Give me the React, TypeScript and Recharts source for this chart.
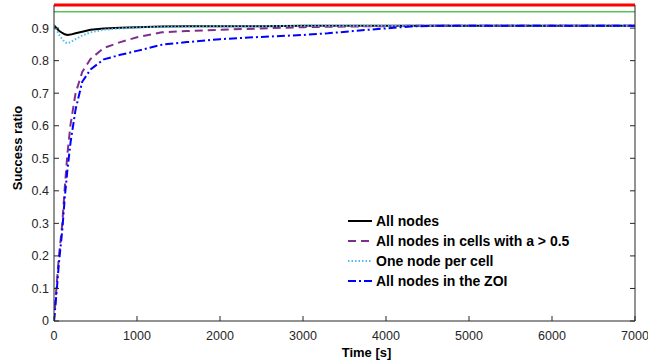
import { LineChart, Line, XAxis, YAxis, Legend, ReferenceLine } from 'recharts';

const times = [0, 30, 60, 100, 130, 160, 200, 260, 340, 440, 600, 800, 1000, 1300, 1600, 2000, 2500, 3000, 3300, 3600, 4000, 4300, 4600, 5000, 6000, 7000];

const allNodes = [0.909, 0.9, 0.892, 0.885, 0.881, 0.879, 0.88, 0.884, 0.889, 0.895, 0.899, 0.901, 0.903, 0.905, 0.906, 0.906, 0.906, 0.907, 0.907, 0.907, 0.907, 0.907, 0.907, 0.907, 0.907, 0.907];
const cellsAbove = [0, 0.105, 0.2, 0.3, 0.41, 0.51, 0.605, 0.7, 0.765, 0.805, 0.839, 0.857, 0.872, 0.887, 0.891, 0.895, 0.899, 0.903, 0.904, 0.905, 0.906, 0.907, 0.907, 0.907, 0.907, 0.907];
const oneNode = [0.909, 0.895, 0.88, 0.866, 0.857, 0.853, 0.857, 0.866, 0.877, 0.887, 0.895, 0.899, 0.902, 0.904, 0.905, 0.906, 0.906, 0.907, 0.907, 0.907, 0.907, 0.907, 0.907, 0.907, 0.907, 0.907];
const zoi = [0, 0.085, 0.18, 0.28, 0.38, 0.46, 0.55, 0.65, 0.735, 0.773, 0.804, 0.818, 0.83, 0.849, 0.857, 0.866, 0.873, 0.879, 0.884, 0.891, 0.899, 0.905, 0.907, 0.907, 0.907, 0.907];

const xTicks = [0, 1000, 2000, 3000, 4000, 5000, 6000, 7000];
const yTicks = [0, 0.1, 0.2, 0.3, 0.4, 0.5, 0.6, 0.7, 0.8, 0.9];
const X_MAX = 7000;
const Y_MAX = 0.971;

const series = [
  { key: 'all', name: 'All nodes', color: '#000000', dash: undefined },
  { key: 'cells', name: 'All nodes in cells with a > 0.5', color: '#7E2F8E', dash: '8 5' },
  { key: 'one', name: 'One node per cell', color: '#4DBEEE', dash: '1.5 2' },
  { key: 'zoi', name: 'All nodes in the ZOI', color: '#0000FF', dash: '8 3 2 3' },
];

const data = times.map((t, i) => ({
  t,
  all: allNodes[i],
  cells: cellsAbove[i],
  one: oneNode[i],
  zoi: zoi[i],
}));

const FONT = '"Liberation Sans", Arial, sans-serif';
const AXIS = '#262626';
const noLabel = () => '';

function LegendBox() {
  return (
    <div style={{ fontFamily: FONT, fontWeight: 'bold', fontSize: 14, color: '#000' }}>
      {series.map((s) => (
        <div key={s.key} style={{ display: 'flex', alignItems: 'center', height: 20 }}>
          <svg width={24} height={10} style={{ marginRight: 4 }}>
            <line x1={0} y1={5} x2={24} y2={5} stroke={s.color} strokeWidth={2} strokeDasharray={s.dash} />
          </svg>
          <span>{s.name}</span>
        </div>
      ))}
    </div>
  );
}

export default function App() {
  return (
    <div style={{ position: 'absolute', left: 0, top: 0, width: 648, height: 364, background: '#fff' }}>
      <LineChart width={648} height={364} data={data} margin={{ top: 5, right: 12, bottom: 0, left: 0 }}>
        <XAxis
          dataKey="t"
          type="number"
          domain={[0, X_MAX]}
          ticks={xTicks}
          interval={0}
          allowDataOverflow
          height={43}
          tickSize={-5}
          tickMargin={15}
          stroke={AXIS}
          tick={{ fill: AXIS, fontSize: 12.5, fontFamily: FONT }}
          label={{ value: 'Time [s]', position: 'center', dx: 22, dy: 10, fill: '#000', fontSize: 13, fontWeight: 'bold', fontFamily: FONT }}
        />
        <YAxis
          type="number"
          domain={[0, Y_MAX]}
          ticks={yTicks}
          interval={0}
          allowDataOverflow
          width={54}
          tickSize={-5}
          tickMargin={10}
          stroke={AXIS}
          tick={{ fill: AXIS, fontSize: 12.5, fontFamily: FONT }}
          label={{ value: 'Success ratio', position: 'center', angle: -90, dx: -10, dy: -15, fill: '#000', fontSize: 13, fontWeight: 'bold', fontFamily: FONT }}
        />
        <YAxis
          yAxisId="y2"
          orientation="right"
          type="number"
          domain={[0, Y_MAX]}
          ticks={yTicks}
          interval={0}
          allowDataOverflow
          width={1}
          tickSize={-5}
          tickFormatter={noLabel}
          stroke={AXIS}
        />
        <ReferenceLine y={Y_MAX} stroke="#ff0000" strokeWidth={3} ifOverflow="visible" />
        <ReferenceLine y={0.95} stroke="#00aa00" strokeWidth={1} ifOverflow="visible" />
        {series.map((s) => (
          <Line
            key={s.key}
            type="linear"
            dataKey={s.key}
            name={s.name}
            stroke={s.color}
            strokeWidth={2}
            strokeDasharray={s.dash}
            dot={false}
            activeDot={false}
            isAnimationActive={false}
          />
        ))}
        <Legend
          layout="vertical"
          align="center"
          verticalAlign="middle"
          content={<LegendBox />}
          wrapperStyle={{ left: 348, top: 211, width: 'auto', height: 'auto' }}
        />
      </LineChart>
    </div>
  );
}
